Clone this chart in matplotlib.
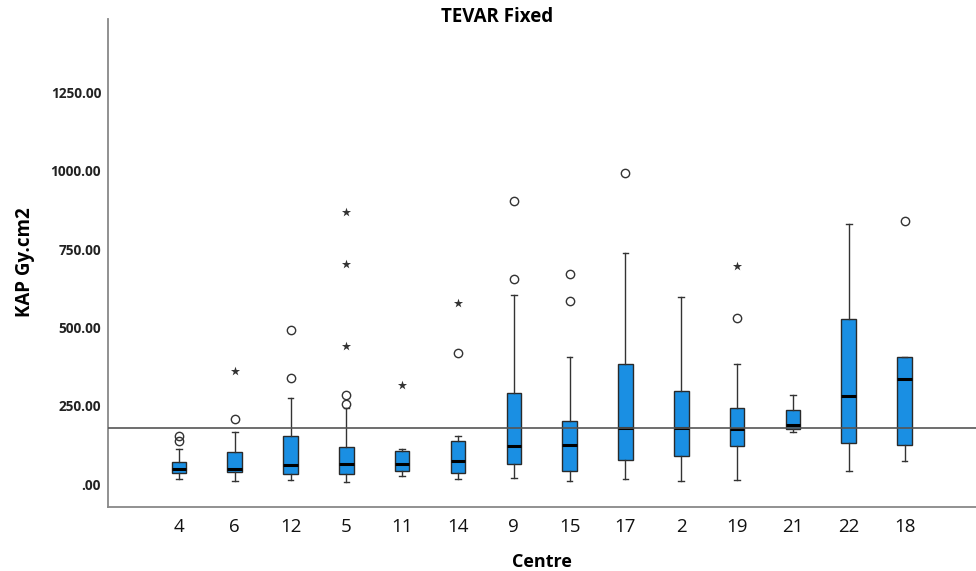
import matplotlib
matplotlib.use("Agg")
import matplotlib.pyplot as plt

plt.rcParams['font.family'] = ['Open Sans', 'DejaVu Sans']

# centres in plotted order
centres = ['4', '6', '12', '5', '11', '14', '9', '15', '17', '2', '19', '21', '22', '18']

# box statistics (KAP Gy.cm2)
whisker_low = [18, 11, 14, 7, 27, 16, 19, 11, 18, 12, 15, 166, 42, 73]
q1 = [36, 39, 33, 33, 44, 36, 66, 43, 78, 89, 122, 176, 133, 127]
medians = [50, 50, 63, 65, 65, 76, 121, 125, 180, 181, 178, 188, 281, 336]
q3 = [72, 103, 154, 118, 108, 137, 291, 203, 383, 299, 245, 236, 527, 405]
whisker_high = [112, 166, 274, 242, 114, 153, 603, 405, 738, 597, 383, 286, 830, 405]

# outliers (circles) and extreme values (stars)
outliers = [
    [138, 153], [207], [339, 491], [255, 284], [], [419],
    [655, 905], [586, 672], [993], [], [530], [], [], [840],
]
extremes = [
    [], [362], [], [441, 703, 868], [316], [580],
    [], [], [], [], [697], [], [], [],
]

overall_median = 181

stats = []
for i, c in enumerate(centres):
    stats.append({
        'label': c,
        'whislo': whisker_low[i],
        'q1': q1[i],
        'med': medians[i],
        'q3': q3[i],
        'whishi': whisker_high[i],
        'fliers': outliers[i],
    })

fig = plt.figure(figsize=(9.76, 5.71), dpi=100)
ax = fig.add_axes([0.1107, 0.1116, 0.8893, 0.8551])

pos = list(range(len(centres)))
ax.bxp(
    stats, positions=pos, widths=0.26, patch_artist=True,
    boxprops=dict(facecolor='#1a8fe3', edgecolor='#2a2a2a', linewidth=1.0),
    medianprops=dict(color='black', linewidth=2.2),
    whiskerprops=dict(color='#333333', linewidth=1.0),
    capprops=dict(color='#333333', linewidth=1.0),
    capwidths=0.1,
    flierprops=dict(marker='o', markersize=6, markerfacecolor='none',
                    markeredgecolor='#333333', markeredgewidth=1.0),
)

# extreme values drawn as stars
for i, vals in enumerate(extremes):
    if vals:
        ax.scatter([pos[i]] * len(vals), vals, marker='*', s=48,
                   color='#333333', linewidths=0, zorder=4)

# reference line at overall median
ax.axhline(overall_median, color='#555555', linewidth=1.2, zorder=5)

ax.set_xlim(-1.27, 14.28)
ax.set_ylim(-73, 1484)
ax.set_yticks([0, 250, 500, 750, 1000, 1250])
ax.set_yticklabels(['.00', '250.00', '500.00', '750.00', '1000.00', '1250.00'],
                   fontsize=9.8, fontweight='bold', color='#222222')
ax.set_xticks(pos)
ax.set_xticklabels(centres, fontsize=13.5, color='#111111')
ax.tick_params(axis='both', length=0)
ax.tick_params(axis='y', pad=5)
ax.tick_params(axis='x', pad=8)

for side in ['top', 'right']:
    ax.spines[side].set_visible(False)
for side in ['left', 'bottom']:
    ax.spines[side].set_color('#888888')
    ax.spines[side].set_linewidth(1.3)

fig.text(0.5555, 1 - 562 / 571, 'Centre', ha='center', va='center',
         fontsize=13, fontweight='bold')
fig.text(0.026, 1 - 262 / 571, 'KAP Gy.cm2', ha='center', va='center', rotation=90,
         fontsize=13.5, fontweight='bold')
fig.text(0.509, 1 - 17 / 571, 'TEVAR Fixed', ha='center', va='center',
         fontsize=13.5, fontweight='bold')

fig.savefig('out.png', dpi=100)
